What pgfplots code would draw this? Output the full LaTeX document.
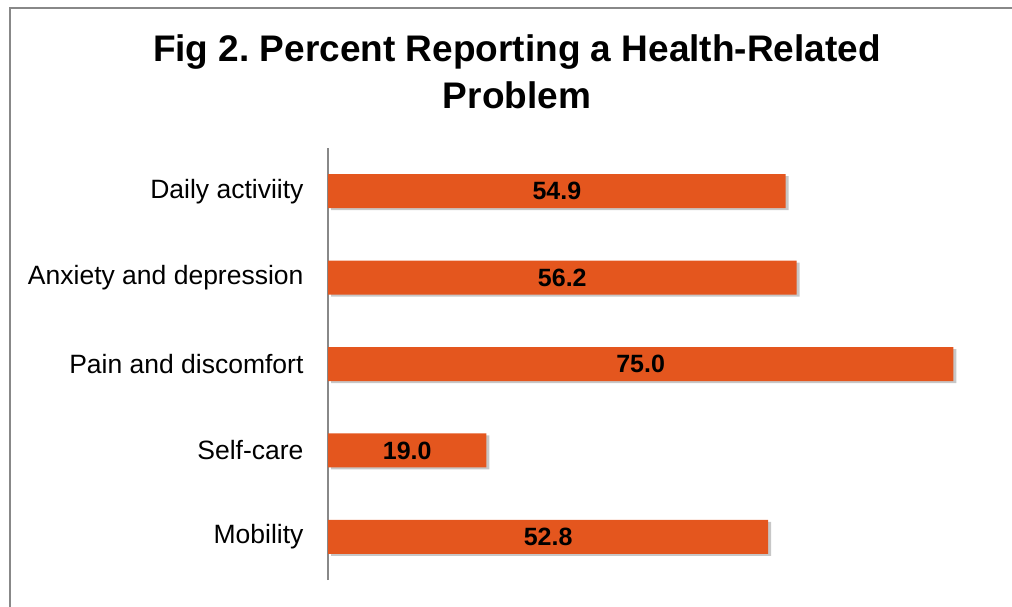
\documentclass[border=0pt]{standalone}
\usepackage{fontspec}
\setmainfont{Liberation Sans}
\usepackage{pgfplots}
\usepackage{pgfplotstable}
\pgfplotsset{compat=1.18}
\usetikzlibrary{shadows}
\definecolor{barorange}{RGB}{228,86,30}
\definecolor{framegray}{RGB}{136,136,136}

\pgfplotstableread{
y x
0 52.8
1 19.0
2 75.0
3 56.2
4 54.9
}\datatable

\begin{document}
\frenchspacing
\begin{tikzpicture}[x=1pt,y=1pt]
\path[use as bounding box] (0,0) rectangle (1012,-606);
\draw[framegray, line width=2pt] (10,-607) -- (10,-8) -- (1012,-8);
\node[font=\fontsize{37}{43}\selectfont\bfseries, anchor=center] at (517,-52) {Fig 2. Percent Reporting a Health-Related};
\node[font=\fontsize{37}{43}\selectfont\bfseries, anchor=center] at (517,-95) {Problem};
\begin{axis}[
  at={(328pt,-580pt)},
  scale only axis,
  width=667pt, height=432pt,
  xmin=0, xmax=80, ymin=-0.5, ymax=4.5,
  anchor=south west,
  hide x axis,
  axis y line*=left,
  y axis line style={framegray, line width=2pt, -},
  ytick={0,1,2,3,4},
  yticklabels={Mobility, Self-care, Pain and discomfort, Anxiety and depression, Daily activiity},
  major tick length=0pt,
  yticklabel style={font=\fontsize{26.5}{30}\selectfont, xshift=-21pt},
  xbar, bar width=34pt,
  clip=false,
]
\addplot[fill=barorange, draw=none,
  drop shadow={shadow xshift=3pt, shadow yshift=-2pt, fill=black, opacity=0.22},
  point meta=x,
  visualization depends on={\thisrow{x} \as \rawx},
  nodes near coords={\pgfmathprintnumber[fixed, fixed zerofill, precision=1, assume math mode=true]{\pgfplotspointmeta}},
  every node near coord/.append style={anchor=center, font=\fontsize{25}{28}\selectfont\bfseries, text=black, xshift={-4.16875pt*\rawx}},
] table[x=x, y=y] {\datatable};
\end{axis}
\end{tikzpicture}
\end{document}
